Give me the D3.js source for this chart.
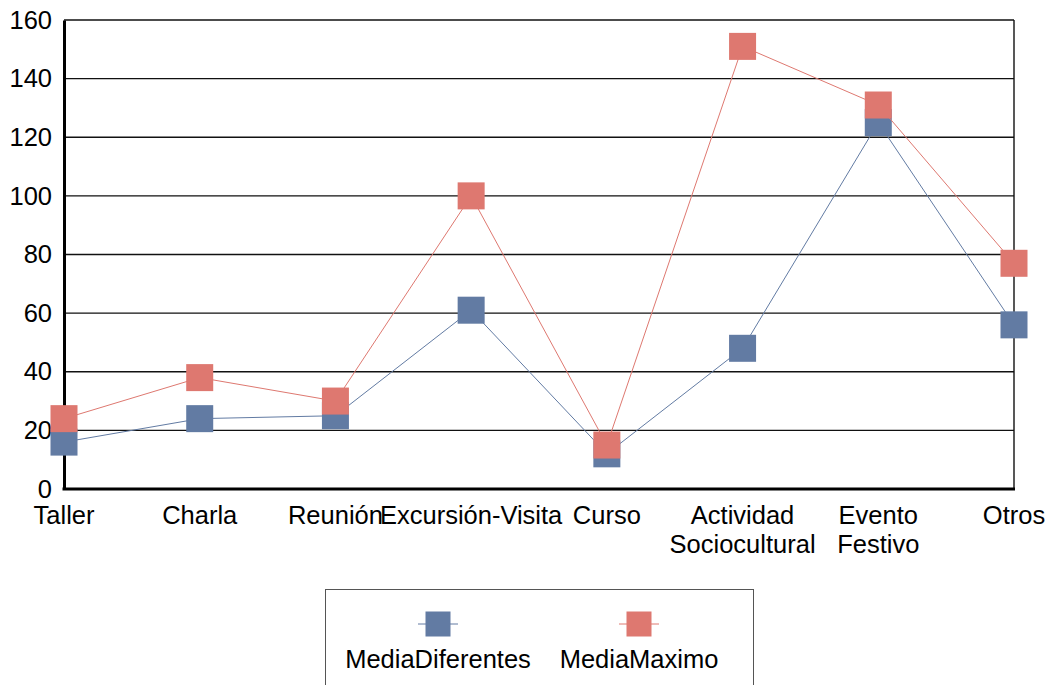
<!DOCTYPE html>
<html>
<head>
<meta charset="utf-8">
<script src="https://cdn.jsdelivr.net/npm/d3@7"></script>
<style>
  body { margin: 0; background: #fff; }
  text { font-family: "Liberation Sans", Arial, sans-serif; fill: #000; }
</style>
</head>
<body>
<div id="chart"></div>
<script>
// categories (multi-line labels split on \n)
const categories = ["Taller", "Charla", "Reunión", "Excursión-Visita", "Curso", "Actividad\nSociocultural", "Evento\nFestivo", "Otros"];
const mediaDiferentes = [16, 24, 25, 61, 12, 48, 125, 56];
const mediaMaximo = [24, 38, 30, 100, 15, 151, 131, 77];
const yTicks = [0, 20, 40, 60, 80, 100, 120, 140, 160];
const seriesNames = ["MediaDiferentes", "MediaMaximo"];
const seriesColors = ["#627ba3", "#de7870"];

const W = 1056, H = 685;
const margin = { top: 20, right: 42, bottom: 196, left: 64 };
const width = W - margin.left - margin.right;
const height = H - margin.top - margin.bottom;
const fontSize = "25.5px";

const svg = d3.select("#chart").append("svg")
    .attr("width", W)
    .attr("height", H);

const g = svg.append("g")
    .attr("transform", `translate(${margin.left},${margin.top})`);

const x = d3.scalePoint()
    .domain(categories)
    .range([0, width])
    .padding(0);

const y = d3.scaleLinear()
    .domain([0, 160])
    .range([height, 0]);

// horizontal grid lines
g.append("g")
    .selectAll("line")
    .data(yTicks.filter(d => d > 0))
    .enter().append("line")
    .attr("x1", 0).attr("x2", width)
    .attr("y1", d => y(d)).attr("y2", d => y(d))
    .attr("stroke", "#111")
    .attr("stroke-width", 1.4);

// right border
g.append("line")
    .attr("x1", width).attr("x2", width)
    .attr("y1", 0).attr("y2", height)
    .attr("stroke", "#111")
    .attr("stroke-width", 1.4);

// y axis
const yAxis = g.append("g")
    .call(d3.axisLeft(y).tickValues(yTicks).tickSize(0).tickPadding(12));
yAxis.select(".domain").attr("stroke", "#000").attr("stroke-width", 3);
yAxis.selectAll("text")
    .style("font-size", fontSize)
    .style("font-family", "Liberation Sans, Arial, sans-serif")
    .attr("fill", "#000");

// x axis line
g.append("line")
    .attr("x1", -1.5).attr("x2", width + 1)
    .attr("y1", height).attr("y2", height)
    .attr("stroke", "#000")
    .attr("stroke-width", 3);

// category labels
const catLabels = g.append("g")
    .selectAll("text")
    .data(categories)
    .enter().append("text")
    .attr("x", d => x(d))
    .attr("y", height + 35)
    .attr("text-anchor", "middle")
    .style("font-size", fontSize);
catLabels.each(function(d) {
    const lines = d.split("\n");
    const t = d3.select(this);
    lines.forEach((l, i) => {
        t.append("tspan")
            .attr("x", x(d))
            .attr("dy", i === 0 ? 0 : 29)
            .text(l);
    });
});

// series
const series = [mediaDiferentes, mediaMaximo];
const ms = 27;
const line = d3.line()
    .x((d, i) => x(categories[i]))
    .y(d => y(d));

series.forEach((vals, s) => {
    g.append("path")
        .datum(vals)
        .attr("d", line)
        .attr("fill", "none")
        .attr("stroke", seriesColors[s])
        .attr("stroke-width", 1);
    g.append("g")
        .selectAll("rect")
        .data(vals)
        .enter().append("rect")
        .attr("x", (d, i) => x(categories[i]) - ms / 2)
        .attr("y", d => y(d) - ms / 2)
        .attr("width", ms)
        .attr("height", ms)
        .attr("fill", seriesColors[s]);
});

// legend
const legend = svg.append("g");
legend.append("rect")
    .attr("x", 325.5).attr("y", 589.5)
    .attr("width", 428).attr("height", 110)
    .attr("fill", "#fff")
    .attr("stroke", "#555")
    .attr("stroke-width", 1);

const legendX = [438, 639];
seriesNames.forEach((name, s) => {
    const cx = legendX[s];
    legend.append("line")
        .attr("x1", cx - 20).attr("x2", cx + 20)
        .attr("y1", 624).attr("y2", 624)
        .attr("stroke", seriesColors[s])
        .attr("stroke-width", 1);
    legend.append("rect")
        .attr("x", cx - 12.5).attr("y", 611.5)
        .attr("width", 25).attr("height", 25)
        .attr("fill", seriesColors[s]);
    legend.append("text")
        .attr("x", cx)
        .attr("y", 668)
        .attr("text-anchor", "middle")
        .style("font-size", fontSize)
        .text(name);
});
</script>
</body>
</html>
